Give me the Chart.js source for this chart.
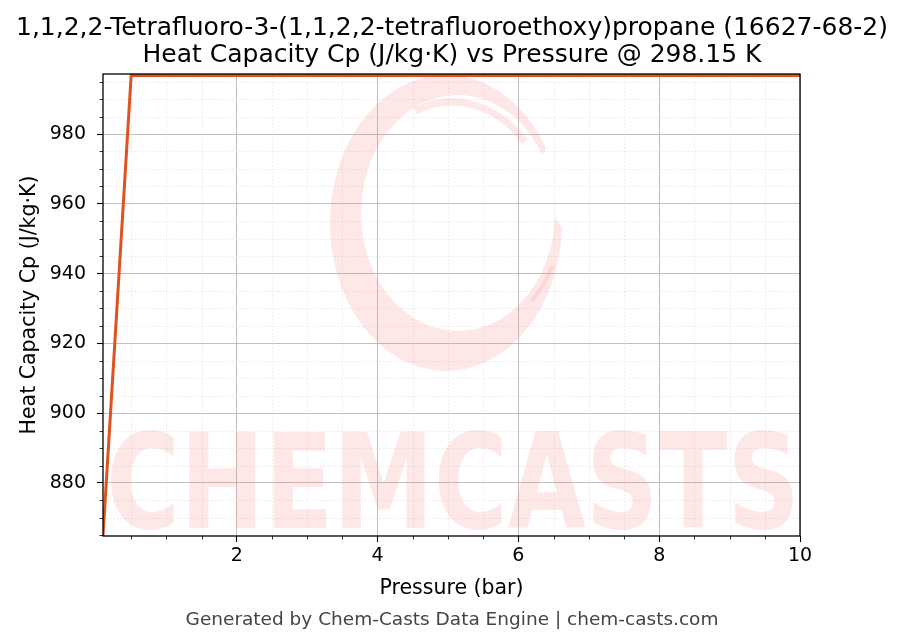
<!DOCTYPE html>
<html>
<head>
<meta charset="utf-8">
<script src="https://cdn.jsdelivr.net/npm/chart.js@4.4.0/dist/chart.umd.min.js"></script>
<style>
  html, body { margin: 0; padding: 0; background: #fff; }
  #wrap { width: 904px; height: 644px; }
</style>
</head>
<body>
<div id="wrap"><canvas id="cp" width="904" height="644"></canvas></div>
<script>
// data
const pressures = [0.1, 0.5, 1, 2, 3, 4, 5, 6, 7, 8, 9, 10];
const heatCapacity = [864.8, 996.8, 996.8, 996.8, 996.8, 996.8, 996.8, 996.8, 996.8, 996.8, 996.8, 996.8];
const xTicks = [2, 4, 6, 8, 10];
const yTicks = [880, 900, 920, 940, 960, 980];
const titleLines = ['1,1,2,2-Tetrafluoro-3-(1,1,2,2-tetrafluoroethoxy)propane (16627-68-2)',
                    'Heat Capacity Cp (J/kg\u00b7K) vs Pressure @ 298.15 K'];

const FONT = '"DejaVu Sans", sans-serif';
const WM = 'rgba(250, 120, 110, 0.17)';
const rad = d => d * Math.PI / 180;

// background, watermark, titles, minor grid and minor ticks
const decor = {
    id: 'decor',
    beforeDraw(chart) {
        const c = chart.ctx;
        c.save();
        c.fillStyle = '#fff';
        c.fillRect(0, 0, chart.width, chart.height);
        c.restore();
    },
    beforeDatasetsDraw(chart) {
        const c = chart.ctx;
        const a = chart.chartArea;
        const xs = chart.scales.x, ys = chart.scales.y;
        c.save();
        // minor grid
        c.strokeStyle = '#dcdcdc';
        c.lineWidth = 0.6;
        c.setLineDash([1.5, 2]);
        for (let v = 0.5; v < 10; v += 0.5) {
            if (xTicks.includes(v)) continue;
            const px = Math.round(xs.getPixelForValue(v)) + 0.5;
            c.beginPath(); c.moveTo(px, a.top); c.lineTo(px, a.bottom); c.stroke();
        }
        for (let v = 865; v < 1000; v += 5) {
            if (yTicks.includes(v)) continue;
            const py = Math.round(ys.getPixelForValue(v)) + 0.5;
            if (py < a.top || py > a.bottom) continue;
            c.beginPath(); c.moveTo(a.left, py); c.lineTo(a.right, py); c.stroke();
        }
        c.setLineDash([]);
        // watermark
        c.beginPath();
        c.rect(a.left, a.top, a.right - a.left, a.bottom - a.top);
        c.clip();
        c.fillStyle = WM;
        c.beginPath();
        c.ellipse(446, 223, 116, 148, 0, rad(2), rad(330));
        c.ellipse(458, 213, 97, 118, 0, rad(330), rad(2), true);
        c.closePath();
        c.fill();
        c.strokeStyle = WM;
        c.lineWidth = 7;
        c.beginPath();
        c.ellipse(452, 222, 98, 120, 0, rad(248), rad(318));
        c.stroke();
        c.lineWidth = 4;
        c.beginPath();
        c.ellipse(450, 222, 110, 118, 0, rad(22), rad(42));
        c.stroke();
        c.font = 'bold 128px ' + FONT;
        c.textAlign = 'left';
        c.textBaseline = 'alphabetic';
        const word = 'CHEMCASTS';
        const w = c.measureText(word).width;
        c.save();
        c.translate(106, 528);
        c.scale(694 / w, 1.03);
        c.fillText(word, 0, 0);
        c.restore();
        c.restore();
    },
    afterDraw(chart) {
        const c = chart.ctx;
        const a = chart.chartArea;
        const xs = chart.scales.x, ys = chart.scales.y;
        c.save();
        // minor ticks
        c.strokeStyle = '#000';
        c.lineWidth = 0.8;
        for (let v = 0.5; v < 10; v += 0.5) {
            if (xTicks.includes(v)) continue;
            const px = Math.round(xs.getPixelForValue(v)) + 0.5;
            c.beginPath(); c.moveTo(px, a.bottom); c.lineTo(px, a.bottom + 3.5); c.stroke();
        }
        for (let v = 865; v < 1000; v += 5) {
            if (yTicks.includes(v)) continue;
            const py = Math.round(ys.getPixelForValue(v)) + 0.5;
            if (py < a.top || py > a.bottom) continue;
            c.beginPath(); c.moveTo(a.left, py); c.lineTo(a.left - 3.5, py); c.stroke();
        }
        // frame
        c.lineWidth = 1.3;
        c.strokeRect(a.left, a.top, a.right - a.left, a.bottom - a.top);
        // titles
        c.fillStyle = '#000';
        c.textAlign = 'center';
        c.textBaseline = 'alphabetic';
        c.font = '25px ' + FONT;
        c.fillText(titleLines[0], 452, 35);
        c.fillText(titleLines[1], 452, 62);
        c.font = '20.5px ' + FONT;
        c.fillText('Pressure (bar)', (a.left + a.right) / 2, 594);
        c.save();
        c.translate(35, (a.top + a.bottom) / 2);
        c.rotate(-Math.PI / 2);
        c.fillText('Heat Capacity Cp (J/kg\u00b7K)', 0, 0);
        c.restore();
        c.fillStyle = '#444';
        c.font = '18.5px ' + FONT;
        c.fillText('Generated by Chem-Casts Data Engine | chem-casts.com', 452, 625);
        c.restore();
    }
};

const ctx = document.getElementById('cp').getContext('2d');
const chart = new Chart(ctx, {
    type: 'line',
    data: {
        datasets: [{
            data: pressures.map((p, i) => ({x: p, y: heatCapacity[i]})),
            borderColor: '#e0521f',
            borderWidth: 3,
            pointRadius: 0,
            fill: false,
            tension: 0
        }]
    },
    options: {
        responsive: false,
        animation: false,
        devicePixelRatio: 1,
        layout: { padding: { left: 0, right: 104, top: 74, bottom: 0 } },
        plugins: { legend: { display: false }, tooltip: { enabled: false } },
        scales: {
            x: {
                type: 'linear',
                min: 0.1,
                max: 10,
                afterBuildTicks: s => { s.ticks = xTicks.map(v => ({value: v})); },
                afterFit: s => { s.height = 108; },
                grid: { color: '#b0b0b0', lineWidth: 0.8, tickColor: '#000', tickLength: 6, tickWidth: 1.1 },
                border: { display: false },
                ticks: { color: '#000', font: { family: FONT, size: 19 }, padding: 3, maxRotation: 0 }
            },
            y: {
                type: 'linear',
                min: 864.8,
                max: 997.2,
                afterBuildTicks: s => { s.ticks = yTicks.map(v => ({value: v})); },
                afterFit: s => { s.width = 103; },
                grid: { color: '#b0b0b0', lineWidth: 0.8, tickColor: '#000', tickLength: 6, tickWidth: 1.1 },
                border: { display: false },
                ticks: { color: '#000', font: { family: FONT, size: 19 }, padding: 11 }
            }
        }
    },
    plugins: [decor]
});
</script>
</body>
</html>
